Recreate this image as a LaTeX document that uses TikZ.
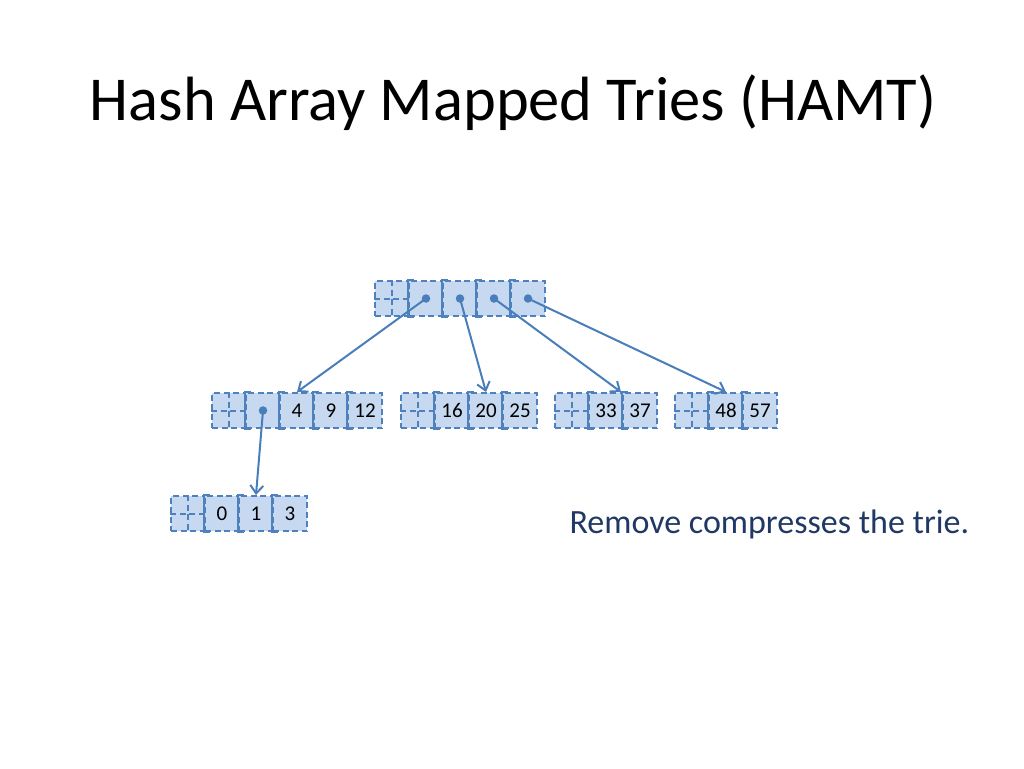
\documentclass[tikz,border=0pt]{standalone}
\usepackage{fontspec}
\setmainfont{Carlito}
\usetikzlibrary{arrows.meta,calc}
\definecolor{cellfill}{HTML}{C6D9F1}
\definecolor{cellline}{HTML}{4F81BD}
\definecolor{arrowcol}{HTML}{4A7EBB}
\definecolor{txtblue}{HTML}{1F3864}
\tikzset{
  hdr/.style={rectangle, minimum width=34pt, minimum height=35pt, inner sep=0pt,
    fill=cellfill, draw=cellline, line width=2pt, dash pattern=on 6pt off 3.5pt},
  cellbox/.style={rectangle, minimum width=34pt, minimum height=35pt, inner sep=0pt,
    fill=cellfill, draw=cellline, line width=2pt, dash pattern=on 6pt off 3.5pt,
    font=\fontsize{21}{21}\selectfont, text=black},
  dsh/.style={draw=cellline, line width=2pt, dash pattern=on 6pt off 3.5pt},
  brk/.style={draw=cellline, line width=2pt},
  ptr/.style={draw=arrowcol, line width=2pt, -{Straight Barb[length=8pt,width=13pt,line width=2pt]}},
  dotm/.style={circle, fill=arrowcol, inner sep=0pt, minimum size=8.5pt}
}
\newcommand\hamtrow[4]{%
  \node[hdr] (#1h) at (#2+17, #3+17.5) {};
  \draw[dsh] (#1h.north) -- (#1h.south);
  \draw[dsh] (#1h.west) -- (#1h.east);
  \foreach \l [count=\i] in {#4} {
    \node[cellbox] (#1\i) at (#2+17+34*\i, #3+17.5) {\l};
    \draw[brk] ([xshift=6pt]#1\i.north west) -- (#1\i.north west) -- (#1\i.south west) -- ([xshift=6pt]#1\i.south west);
  }%
}
\begin{document}
\begin{tikzpicture}[x=1pt,y=-1pt]
\useasboundingbox (0,0) rectangle (1024,768);
\node[anchor=base, font=\fontsize{62.5}{62.5}\selectfont] (title) at (513,120) {Hash Array Mapped Tries (HAMT)};
% top array
\hamtrow{a}{375}{281}{{},{},{},{}}
% middle arrays
\hamtrow{b}{212}{393}{{},4,9,12}
\hamtrow{c}{401}{393}{16,20,25}
\hamtrow{d}{555}{393}{33,37}
\hamtrow{e}{675}{393}{48,57}
% bottom array
\hamtrow{f}{171}{496}{0,1,3}
% pointer dots
\foreach \n in {a1,a2,a3,a4,b1} { \node[dotm] (dot\n) at (\n.center) {}; }
% arrows
\draw[ptr] (dota1.center) -- (b2.north);
\draw[ptr] (dota2.center) -- (c2.north);
\draw[ptr] (dota3.center) -- ($(d1.north east)+(-3,0)$);
\draw[ptr] (dota4.center) -- (e1.north);
\draw[ptr] (dotb1.center) -- (f2.north);
\node[anchor=base west, text=txtblue, font=\fontsize{34}{34}\selectfont] (note) at (566,533) {Remove compresses the trie.};
\end{tikzpicture}
\end{document}
